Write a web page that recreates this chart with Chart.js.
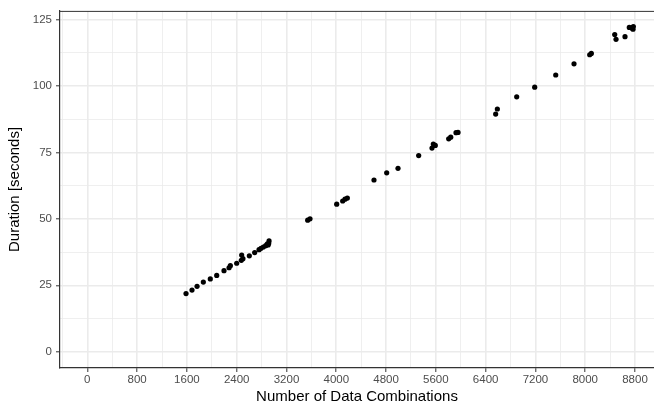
<!DOCTYPE html>
<html>
<head>
<meta charset="utf-8">
<script src="https://cdn.jsdelivr.net/npm/chart.js@4/dist/chart.umd.min.js"></script>
<style>
  body { margin: 0; background: #fff; }
  #wrap { width: 654px; height: 411px; }
</style>
</head>
<body>
<div id="wrap"><canvas id="chart"></canvas></div>
<script>
// number of data combinations vs duration (seconds)
const combos = [1586, 1682, 1763, 1864, 1976, 2079, 2196, 2277, 2298, 2400,
  2474, 2480, 2500, 2603, 2689, 2759, 2791, 2828, 2866, 2892, 2905, 2914, 2920,
  3541, 3578, 4007, 4103, 4140, 4178, 4606, 4810, 4992, 5324, 5538, 5559, 5591,
  5806, 5839, 5924, 5956, 6561, 6588, 6899, 7188, 7526, 7820, 8072, 8098,
  8474, 8495, 8639, 8708, 8747, 8768, 8773];
const durations = [21.9, 23.2, 24.6, 26.2, 27.4, 28.7, 30.5, 31.6, 32.4, 33.3,
  34.4, 36.4, 35.0, 36.1, 37.3, 38.4, 38.9, 39.4, 39.9, 40.6, 40.2, 40.7, 41.7,
  49.5, 50.0, 55.5, 56.7, 57.4, 57.8, 64.6, 67.3, 69.0, 73.8, 76.6, 78.1, 77.6,
  80.1, 80.7, 82.4, 82.5, 89.4, 91.3, 95.9, 99.5, 104.1, 108.3, 111.7, 112.2,
  119.3, 117.5, 118.5, 122.0, 121.8, 121.3, 122.3];

const xTicks = [0, 800, 1600, 2400, 3200, 4000, 4800, 5600, 6400, 7200, 8000, 8800];
const yTicks = [0, 25, 50, 75, 100, 125];

const X_MIN = -439, X_MAX = 9105, Y_MIN = -6.1, Y_MAX = 128.2;

const gridGrey = '#EBEBEB';
const axisDark = '#333333';
const tickFont = { family: 'Liberation Sans', size: 11.5 };
const titleFont = { family: 'Liberation Sans', size: 15 };

function withMinor(major, half, lo, hi) {
  const all = major.concat(major.map(v => v + half), major.map(v => v - half));
  return Array.from(new Set(all)).filter(v => v >= lo && v <= hi).sort((a, b) => a - b);
}

const topBorder = {
  id: 'topBorder',
  afterDraw(chart) {
    const { ctx, chartArea } = chart;
    ctx.save();
    ctx.strokeStyle = axisDark;
    ctx.lineWidth = 1;
    ctx.beginPath();
    ctx.moveTo(chartArea.left, chartArea.top + 0.5);
    ctx.lineTo(chartArea.right, chartArea.top + 0.5);
    ctx.stroke();
    ctx.restore();
  }
};

const points = combos.map((c, i) => ({ x: c, y: durations[i] }));

new Chart(document.getElementById('chart').getContext('2d'), {
  type: 'scatter',
  data: {
    datasets: [{
      data: points,
      backgroundColor: '#000',
      borderWidth: 0,
      pointRadius: 2.6,
      pointHoverRadius: 2.6
    }]
  },
  options: {
    responsive: true,
    maintainAspectRatio: false,
    animation: false,
    layout: { autoPadding: false, padding: { top: 9, right: 0, left: 0, bottom: 0 } },
    plugins: {
      legend: { display: false },
      tooltip: { enabled: false }
    },
    scales: {
      x: {
        type: 'linear',
        min: X_MIN,
        max: X_MAX,
        afterBuildTicks: s => { s.ticks = withMinor(xTicks, 400, X_MIN, X_MAX).map(v => ({ value: v })); },
        afterFit: s => { s.height = 43; },
        border: { color: axisDark, width: 1.2 },
        grid: {
          color: gridGrey,
          lineWidth: c => (xTicks.includes(c.tick.value) ? 1.6 : 0.8),
          tickLength: 4,
          tickColor: c => (xTicks.includes(c.tick.value) ? axisDark : 'rgba(0,0,0,0)'),
          tickWidth: 1
        },
        ticks: {
          autoSkip: false,
          maxRotation: 0,
          padding: 1,
          color: '#4D4D4D',
          font: tickFont,
          callback: v => (xTicks.includes(v) ? String(v) : '')
        },
        title: {
          display: true,
          text: 'Number of Data Combinations',
          color: '#000',
          font: titleFont,
          padding: { top: 5, bottom: 5 }
        }
      },
      y: {
        type: 'linear',
        min: Y_MIN,
        max: Y_MAX,
        afterBuildTicks: s => { s.ticks = withMinor(yTicks, 12.5, Y_MIN, Y_MAX).map(v => ({ value: v })); },
        afterFit: s => { s.width = 60; },
        border: { color: axisDark, width: 1.2 },
        grid: {
          color: gridGrey,
          lineWidth: c => (yTicks.includes(c.tick.value) ? 1.6 : 0.8),
          tickLength: 4,
          tickColor: c => (yTicks.includes(c.tick.value) ? axisDark : 'rgba(0,0,0,0)'),
          tickWidth: 1
        },
        ticks: {
          autoSkip: false,
          padding: 4,
          color: '#4D4D4D',
          font: tickFont,
          callback: v => (yTicks.includes(v) ? String(v) : '')
        },
        title: {
          display: true,
          text: 'Duration [seconds]',
          color: '#000',
          font: titleFont,
          padding: { top: 6, bottom: 6 }
        }
      }
    }
  },
  plugins: [topBorder]
});
</script>
</body>
</html>
